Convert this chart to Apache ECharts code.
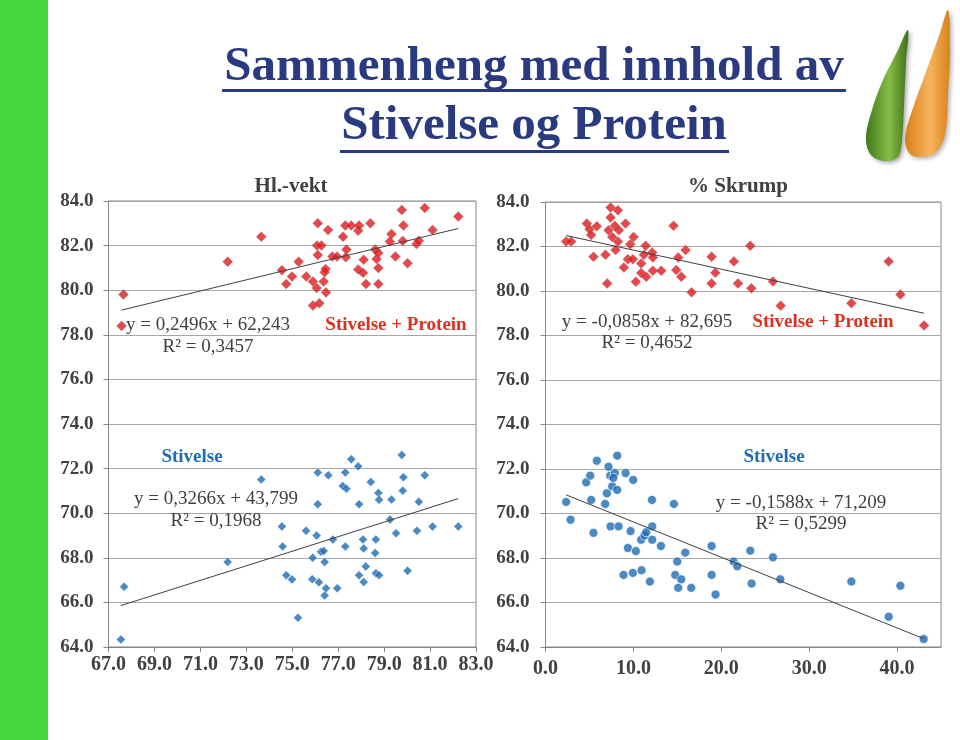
<!DOCTYPE html>
<html>
<head>
<meta charset="utf-8">
<script src="https://cdn.jsdelivr.net/npm/echarts@6/dist/echarts.min.js"></script>
<style>
html,body{margin:0;padding:0;background:#fff;}
#c{width:960px;height:740px;}
</style>
</head>
<body>
<div id="c"></div>
<script>
// ---- Data ----
// Hl.-vekt (x) vs Stivelse + Protein (y)
const hlVsSP = [[67.65,79.81],[67.57,78.40],[72.19,81.28],[73.65,82.40],[74.55,80.90],[74.74,80.28],[74.99,80.61],[75.28,81.28],[75.61,80.61],[75.90,80.39],[75.90,79.31],[76.06,80.10],[76.11,83.00],[76.08,82.00],[76.27,82.00],[76.11,81.58],[76.18,79.42],[76.37,80.39],[76.41,80.81],[76.45,80.95],[76.47,79.90],[76.56,82.70],[76.75,81.51],[76.95,81.51],[77.21,82.40],[77.31,82.90],[77.36,81.82],[77.33,81.48],[77.57,82.90],[77.87,82.67],[77.91,82.90],[77.87,80.93],[78.08,80.78],[78.11,81.37],[78.21,80.28],[78.40,83.00],[78.61,81.82],[78.67,81.40],[78.75,81.67],[78.75,80.99],[78.75,80.28],[79.25,82.18],[79.32,82.52],[79.49,81.51],[79.77,83.60],[79.84,82.90],[79.81,82.21],[80.02,81.21],[80.41,82.07],[80.51,82.22],[80.77,83.69],[81.11,82.70],[82.23,83.30]];
// Hl.-vekt (x) vs Stivelse (y)
const hlVsSt = [[67.54,64.34],[67.68,66.70],[72.19,67.81],[73.65,71.51],[74.55,69.40],[74.58,68.51],[74.74,67.22],[74.99,67.03],[75.25,65.31],[75.60,69.21],[75.89,68.00],[75.87,67.04],[76.06,69.00],[76.11,71.82],[76.11,70.40],[76.16,66.90],[76.25,68.27],[76.37,68.31],[76.41,67.81],[76.47,66.63],[76.41,66.31],[76.57,71.70],[76.77,68.82],[76.96,66.63],[77.20,71.22],[77.36,71.10],[77.31,71.82],[77.31,68.51],[77.57,72.42],[77.87,72.10],[77.91,70.40],[77.91,67.22],[78.08,68.82],[78.11,68.42],[78.11,66.91],[78.20,67.61],[78.42,71.40],[78.61,68.21],[78.64,68.82],[78.64,67.31],[78.78,67.22],[78.75,70.91],[78.78,70.60],[79.26,69.72],[79.32,70.61],[79.52,69.10],[79.77,72.61],[79.84,71.61],[79.81,71.01],[80.02,67.42],[80.43,69.21],[80.51,70.51],[80.77,71.70],[81.11,69.40],[82.23,69.40]];
// % Skrump (x) vs Stivelse + Protein (y)
const skVsSP = [[2.35,82.22],[2.92,82.22],[4.71,83.03],[5.01,82.78],[5.20,82.52],[5.84,82.91],[5.46,81.54],[6.83,81.63],[7.02,80.34],[7.17,82.73],[7.40,83.75],[7.40,83.30],[7.59,82.43],[7.89,82.93],[7.97,81.84],[8.24,83.63],[8.35,82.73],[8.24,82.22],[9.11,83.03],[8.92,81.06],[9.37,81.43],[9.64,82.10],[10.02,82.43],[9.94,81.43],[10.28,80.42],[10.89,81.24],[10.89,80.81],[11.20,81.63],[11.39,82.03],[11.46,80.64],[12.14,81.73],[12.22,81.51],[12.22,80.91],[13.17,80.91],[14.57,82.93],[14.88,80.94],[15.10,81.51],[15.45,80.64],[15.94,81.84],[16.62,79.94],[18.90,81.54],[18.90,80.34],[19.32,80.82],[21.44,81.33],[21.90,80.34],[23.30,82.03],[23.42,80.12],[25.88,80.43],[26.76,79.34],[34.80,79.45],[39.05,81.33],[40.38,79.84],[43.07,78.45]];
// % Skrump (x) vs Stivelse (y)
const skVsSt = [[2.35,70.52],[2.85,69.72],[4.63,71.40],[5.09,71.70],[5.20,70.61],[5.46,69.13],[5.84,72.37],[6.79,70.43],[6.98,70.91],[7.17,72.10],[7.36,71.70],[7.40,69.42],[7.59,71.22],[7.89,71.82],[7.72,71.60],[8.16,72.60],[8.16,71.06],[8.31,69.42],[8.88,67.24],[9.11,71.82],[9.37,68.45],[9.68,69.21],[9.94,67.33],[9.98,71.51],[10.28,68.31],[10.93,67.45],[10.89,68.82],[11.27,69.01],[11.46,69.16],[11.88,66.94],[12.11,70.61],[12.14,69.42],[12.14,68.82],[13.13,68.54],[14.61,70.43],[14.76,67.24],[14.99,67.84],[15.10,66.66],[15.45,67.04],[15.90,68.24],[16.58,66.66],[18.90,68.54],[18.90,67.24],[19.35,66.36],[21.40,67.84],[21.82,67.63],[23.30,68.33],[23.45,66.85],[25.88,68.03],[26.72,67.04],[34.80,66.94],[39.05,65.36],[40.38,66.75],[43.03,64.36]];

// Trendline coefficients printed in the chart [slope, intercept]
const trendHlSP = [0.2496, 62.243];
const trendHlSt = [0.3266, 43.799];
const trendSkSP = [-0.0858, 82.695];
const trendSkSt = [-0.1588, 71.209];

// Axis scales [min, max, interval]
const yScale = [64, 84, 2];
const xScaleHl = [67, 83, 2];
const xScaleSk = [0, 45, 10];

// Texts
const mainTitle = ['Sammenheng med innhold av', 'Stivelse og Protein'];
const chartTitles = ['Hl.-vekt', '% Skrump'];
const eqHlSP = ['y = 0,2496x + 62,243', 'R² = 0,3457'];
const eqHlSt = ['y = 0,3266x + 43,799', 'R² = 0,1968'];
const eqSkSP = ['y = -0,0858x + 82,695', 'R² = 0,4652'];
const eqSkSt = ['y = -0,1588x + 71,209', 'R² = 0,5299'];
const seriesNames = ['Stivelse + Protein', 'Stivelse'];

// ---- Helpers ----
function trendLine(pts, coef) {
  const xs = pts.map(p => p[0]);
  const x0 = Math.min.apply(null, xs), x1 = Math.max.apply(null, xs);
  return [[x0, coef[0] * x0 + coef[1]], [x1, coef[0] * x1 + coef[1]]];
}
const SERIF = '"Liberation Serif", "Times New Roman", serif';
const GRAY = '#404040';
const RED = '#E5181B';
const BLUE = '#1E6CB4';
const RED_TXT = '#D9321E';

function yAxis(gi, margin) {
  return {
    type: 'value', gridIndex: gi, min: yScale[0], max: yScale[1], interval: yScale[2],
    axisLine: {show: true, lineStyle: {color: '#868686', width: 1}},
    axisTick: {show: true, length: 5, lineStyle: {color: '#868686'}},
    splitLine: {show: true, lineStyle: {color: '#A6A6A6', width: 1}},
    axisLabel: {margin: margin, color: GRAY, fontFamily: SERIF, fontWeight: 'bold', fontSize: 19,
      formatter: v => v.toFixed(1)}
  };
}
function xAxis(gi, sc, margin) {
  return {
    type: 'value', gridIndex: gi, min: sc[0], max: sc[1], interval: sc[2],
    axisLine: {show: true, onZero: false, lineStyle: {color: '#868686', width: 1}},
    axisTick: {show: true, length: 5, lineStyle: {color: '#868686'}},
    splitLine: {show: false},
    axisLabel: {margin: margin, color: GRAY, fontFamily: SERIF, fontWeight: 'bold', fontSize: 20,
      showMaxLabel: (sc[1] - sc[0]) % sc[2] === 0,
      formatter: v => v.toFixed(1)}
  };
}
function txt(x, y, text, opt) {
  return {
    type: 'text', x: x, y: y, z: 100,
    style: Object.assign({text: text, fill: GRAY, font: '19px ' + SERIF, textAlign: 'center', textVerticalAlign: 'middle'}, opt || {})
  };
}
function grad(c0, c1, c2) {
  return {type: 'linear', x: 0, y: 0, x2: 1, y2: 0, colorStops: [{offset: 0, color: c0}, {offset: 0.55, color: c1}, {offset: 1, color: c2}]};
}

const chart = echarts.init(document.getElementById('c'), null, {renderer: 'canvas'});
chart.setOption({
  backgroundColor: '#ffffff',
  animation: false,
  grid: [
    {left: 108.5, top: 201, width: 367.5, height: 446, show: true, borderColor: '#868686', borderWidth: 1, backgroundColor: 'transparent'},
    {left: 545.5, top: 202, width: 395.5, height: 445, show: true, borderColor: '#868686', borderWidth: 1, backgroundColor: 'transparent'}
  ],
  xAxis: [xAxis(0, xScaleHl, 8), xAxis(1, xScaleSk, 12)],
  yAxis: [yAxis(0, 15), yAxis(1, 16)],
  series: [
    {type: 'scatter', name: seriesNames[0], xAxisIndex: 0, yAxisIndex: 0, data: hlVsSP, symbol: 'diamond', symbolSize: 10,
      itemStyle: {color: RED, borderColor: 'rgba(140,140,140,0.7)', borderWidth: 0.8}},
    {type: 'scatter', name: seriesNames[1], xAxisIndex: 0, yAxisIndex: 0, data: hlVsSt, symbol: 'diamond', symbolSize: 9,
      itemStyle: {color: BLUE, borderColor: 'rgba(255,255,255,0.8)', borderWidth: 0.6}},
    {type: 'line', xAxisIndex: 0, yAxisIndex: 0, data: trendLine(hlVsSP, trendHlSP), symbol: 'none', lineStyle: {color: GRAY, width: 1}, z: 5},
    {type: 'line', xAxisIndex: 0, yAxisIndex: 0, data: trendLine(hlVsSt, trendHlSt), symbol: 'none', lineStyle: {color: GRAY, width: 1}, z: 5},
    {type: 'scatter', name: seriesNames[0], xAxisIndex: 1, yAxisIndex: 1, data: skVsSP, symbol: 'diamond', symbolSize: 10,
      itemStyle: {color: RED, borderColor: 'rgba(140,140,140,0.7)', borderWidth: 0.8}},
    {type: 'scatter', name: seriesNames[1], xAxisIndex: 1, yAxisIndex: 1, data: skVsSt, symbol: 'circle', symbolSize: 9,
      itemStyle: {color: BLUE, borderColor: '#ffffff', borderWidth: 0.8}},
    {type: 'line', xAxisIndex: 1, yAxisIndex: 1, data: trendLine(skVsSP, trendSkSP), symbol: 'none', lineStyle: {color: GRAY, width: 1}, z: 5},
    {type: 'line', xAxisIndex: 1, yAxisIndex: 1, data: trendLine(skVsSt, trendSkSt), symbol: 'none', lineStyle: {color: GRAY, width: 1}, z: 5}
  ],
  graphic: [
    // left green band
    {type: 'rect', shape: {x: 0, y: 0, width: 48, height: 740}, style: {fill: '#45D83C'}, z: 1},
    // main title
    txt(534, 67, mainTitle[0], {fill: '#2A3A80', font: 'bold 49px ' + SERIF}),
    txt(534, 126, mainTitle[1], {fill: '#2A3A80', font: 'bold 49px ' + SERIF}),
    {type: 'rect', shape: {x: 222, y: 89, width: 624, height: 3}, style: {fill: '#2A3A80'}, z: 100},
    {type: 'rect', shape: {x: 340, y: 150, width: 389, height: 3}, style: {fill: '#2A3A80'}, z: 100},
    // logo leaves
    {type: 'polygon', z: 100, shape: {smooth: 0.35, points: [[908,30],[897,52],[883,80],[872,110],[866,138],[871,155],[885,161],[898,157],[902,140],[904,105],[906,62]]},
      style: {fill: grad('#3F7A1A', '#86BC45', '#3F6E18'), shadowBlur: 4, shadowColor: 'rgba(0,0,0,0.35)', shadowOffsetX: 2, shadowOffsetY: 2}},
    {type: 'polygon', z: 100, shape: {smooth: 0.35, points: [[948,10],[939,36],[926,72],[913,108],[905,138],[910,154],[922,157],[936,152],[945,135],[948,95],[950,48]]},
      style: {fill: grad('#D97E1C', '#F7B45A', '#D8821E'), shadowBlur: 4, shadowColor: 'rgba(0,0,0,0.3)', shadowOffsetX: 2, shadowOffsetY: 2}},
    // chart titles
    txt(291, 187, chartTitles[0], {font: 'bold 21px ' + SERIF}),
    txt(738, 187, chartTitles[1], {font: 'bold 21px ' + SERIF}),
    // series labels
    txt(396, 325, seriesNames[0], {fill: RED_TXT, font: 'bold 19px ' + SERIF}),
    txt(823, 322, seriesNames[0], {fill: RED_TXT, font: 'bold 19px ' + SERIF}),
    txt(192, 457, seriesNames[1], {fill: BLUE, font: 'bold 19px ' + SERIF}),
    txt(774, 457, seriesNames[1], {fill: BLUE, font: 'bold 19px ' + SERIF}),
    // equations
    txt(208, 325, eqHlSP[0]), txt(208, 347, eqHlSP[1]),
    txt(216, 499, eqHlSt[0]), txt(216, 521, eqHlSt[1]),
    txt(647, 322, eqSkSP[0]), txt(647, 343, eqSkSP[1]),
    txt(801, 503, eqSkSt[0]), txt(801, 524, eqSkSt[1])
  ]
});
</script>
</body>
</html>
